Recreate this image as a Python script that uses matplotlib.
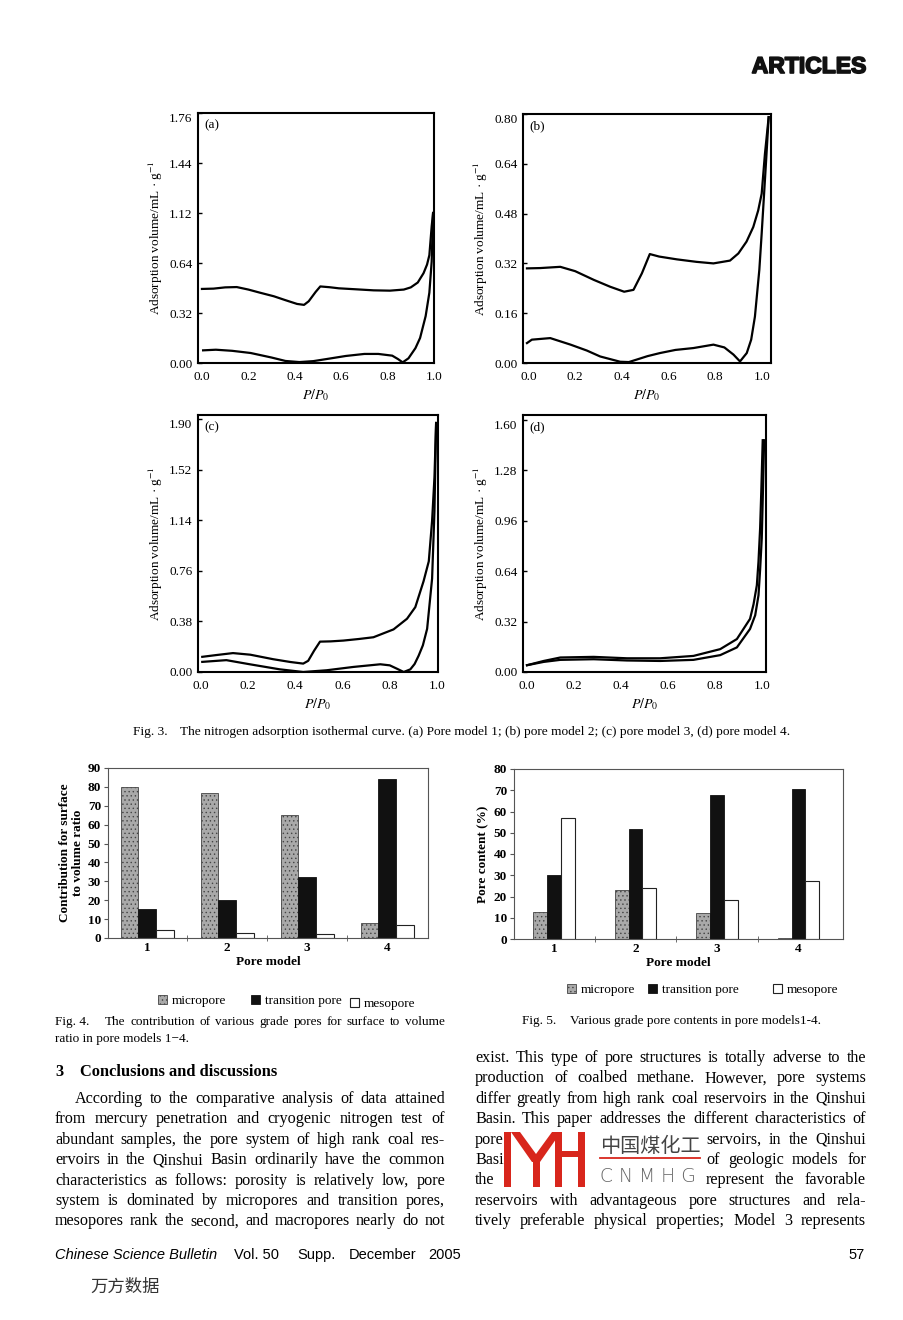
import matplotlib
matplotlib.use("Agg")
import matplotlib.pyplot as plt
import matplotlib.patheffects as pe
import numpy as np
from matplotlib.patches import Rectangle, Polygon

# ---- Fig. 3 isotherms ----
a_des_x = [0.0, 0.05, 0.10, 0.15, 0.20, 0.25, 0.31, 0.36, 0.41, 0.44, 0.46, 0.49, 0.51, 0.55, 0.59,
           0.66, 0.74, 0.81, 0.87, 0.90, 0.93, 0.955, 0.97, 0.98, 0.99, 0.996]
a_des_y = [0.474, 0.476, 0.484, 0.486, 0.470, 0.450, 0.427, 0.402, 0.378, 0.372, 0.395, 0.455, 0.490,
           0.485, 0.478, 0.472, 0.465, 0.463, 0.470, 0.484, 0.515, 0.575, 0.630, 0.690, 0.875, 0.960]
a_ads_x = [0.005, 0.06, 0.13, 0.21, 0.30, 0.36, 0.42, 0.48, 0.54, 0.62, 0.70, 0.76, 0.82, 0.845, 0.865,
           0.89, 0.92, 0.94, 0.964, 0.98, 0.99, 0.996]
a_ads_y = [0.081, 0.085, 0.078, 0.064, 0.035, 0.013, 0.006, 0.012, 0.026, 0.045, 0.058, 0.058, 0.047,
           0.025, 0.004, 0.030, 0.095, 0.160, 0.300, 0.450, 0.650, 0.960]

b_des_x = [-0.007, 0.05, 0.136, 0.2, 0.28, 0.35, 0.41, 0.45, 0.486, 0.52, 0.56, 0.636, 0.72, 0.793,
           0.864, 0.90, 0.935, 0.964, 0.985, 1.0, 1.014, 1.03]
b_des_y = [0.304, 0.305, 0.309, 0.295, 0.267, 0.245, 0.229, 0.235, 0.288, 0.350, 0.342, 0.333, 0.325,
           0.320, 0.329, 0.352, 0.390, 0.437, 0.490, 0.544, 0.672, 0.790]
b_ads_x = [-0.007, 0.014, 0.093, 0.18, 0.25, 0.307, 0.393, 0.43, 0.464, 0.51, 0.564, 0.63, 0.707, 0.793,
           0.84, 0.879, 0.907, 0.936, 0.955, 0.971, 0.99, 1.0, 1.019, 1.03]
b_ads_y = [0.064, 0.075, 0.080, 0.059, 0.040, 0.021, 0.004, 0.003, 0.011, 0.022, 0.032, 0.042, 0.048,
           0.059, 0.050, 0.027, 0.005, 0.032, 0.075, 0.149, 0.300, 0.416, 0.650, 0.790]

c_des_x = [0.007, 0.07, 0.137, 0.21, 0.307, 0.38, 0.434, 0.455, 0.48, 0.505, 0.55, 0.604, 0.67, 0.731,
           0.816, 0.873, 0.908, 0.943, 0.965, 0.979, 0.989, 0.996]
c_des_y = [0.114, 0.128, 0.142, 0.130, 0.096, 0.075, 0.063, 0.084, 0.160, 0.228, 0.230, 0.236, 0.248,
           0.261, 0.320, 0.400, 0.487, 0.682, 0.831, 1.135, 1.461, 1.870]
c_ads_x = [0.007, 0.109, 0.208, 0.335, 0.434, 0.533, 0.646, 0.76, 0.80, 0.83, 0.859, 0.887, 0.905,
           0.922, 0.94, 0.958, 0.979, 0.989, 0.996]
c_ads_y = [0.076, 0.089, 0.058, 0.020, 0.000, 0.013, 0.038, 0.058, 0.050, 0.025, 0.000, 0.020, 0.060,
           0.122, 0.200, 0.324, 0.701, 1.208, 1.870]

d_des_x = [0.0, 0.071, 0.142, 0.284, 0.426, 0.567, 0.709, 0.823, 0.894, 0.95, 0.965, 0.979, 0.986,
           0.993, 0.998, 1.004]
d_des_y = [0.043, 0.070, 0.092, 0.096, 0.087, 0.087, 0.102, 0.145, 0.209, 0.337, 0.430, 0.550, 0.700,
           0.913, 1.150, 1.470]
d_ads_x = [0.0, 0.071, 0.142, 0.284, 0.426, 0.567, 0.709, 0.823, 0.894, 0.95, 0.972, 0.986, 0.993,
           1.0, 1.005, 1.01]
d_ads_y = [0.043, 0.064, 0.077, 0.081, 0.073, 0.070, 0.077, 0.107, 0.156, 0.273, 0.360, 0.486, 0.650,
           0.849, 1.150, 1.470]

a_ticks = ["0.00", "0.32", "0.64", "1.12", "1.44", "1.76"]   # as printed in the original
b_ticks = ["0.00", "0.16", "0.32", "0.48", "0.64", "0.80"]
c_ticks = ["0.00", "0.38", "0.76", "1.14", "1.52", "1.90"]
d_ticks = ["0.00", "0.32", "0.64", "0.96", "1.28", "1.60"]

# ---- Fig. 4 / Fig. 5 bars ----
models = ["1", "2", "3", "4"]
f4_micro = [80, 77, 65, 8]
f4_trans = [15.5, 20, 32.5, 84]
f4_meso = [4.5, 2.5, 2, 7]
f5_micro = [12.5, 23, 12.3, 0.3]
f5_trans = [30, 52, 68, 70.5]
f5_meso = [57, 24, 18.5, 27.5]
pore_names = ["micropore", "transition pore", "mesopore"]

W, H = 904, 1320
plt.rcParams["font.family"] = ["Liberation Serif", "DejaVu Sans"]
plt.rcParams["mathtext.fontset"] = "stix"
plt.rcParams["hatch.linewidth"] = 0.5

fig = plt.figure(figsize=(W / 100, H / 100), dpi=100)
fig.patch.set_facecolor("white")
renderer = fig.canvas.get_renderer()


def box(l, t, r, b):
    return [l / W, 1 - b / H, (r - l) / W, (b - t) / H]


def ftext(x, y, s, **kw):
    return fig.text(x / W, 1 - y / H, s, **kw)


def width_of(s, **kw):
    t = fig.text(0, 0, s, **kw)
    w = t.get_window_extent(renderer).width
    t.remove()
    return w


def line(s, x0, y, x1=None, **kw):
    """one line of body text, spread to x1 when given (justified)"""
    words = s.split()
    ts = [ftext(x0, y, w, va="baseline", **kw) for w in words]
    ws = [t.get_window_extent(renderer).width for t in ts]
    if x1 is None or len(ws) < 2:
        gap = width_of("a a", **kw) - width_of("aa", **kw)
    else:
        gap = (x1 - x0 - sum(ws)) / (len(ws) - 1)
    x = x0
    for t, w in zip(ts, ws):
        t.set_x(x / W)
        x += w + gap


# ---------------- Fig. 3 ----------------
panels = [
    ("(a)", (198, 113, 434, 363), a_des_x, a_des_y, a_ads_x, a_ads_y, (-0.017, 1.0), 1.60, 1.60, a_ticks),
    ("(b)", (523, 114, 771, 363), b_des_x, b_des_y, b_ads_x, b_ads_y, (-0.024, 1.04), 0.80, 0.80, b_ticks),
    ("(c)", (198, 415, 438, 672), c_des_x, c_des_y, c_ads_x, c_ads_y, (-0.011, 1.004), 1.93, 1.90, c_ticks),
    ("(d)", (523, 415, 766, 672), d_des_x, d_des_y, d_ads_x, d_ads_y, (-0.017, 1.018), 1.63, 1.60, d_ticks),
]
for tag, bx, dx, dy, ax_, ay_, xl, ytop, tmax, tlabels in panels:
    ax = fig.add_axes(box(*bx))
    ax.plot(dx, dy, color="black", lw=1.6)
    ax.plot(ax_, ay_, color="black", lw=1.6)
    ax.set_xlim(*xl)
    ax.set_ylim(0, ytop)
    ax.set_xticks([0.0, 0.2, 0.4, 0.6, 0.8, 1.0])
    ax.set_xticklabels(["0.0", "0.2", "0.4", "0.6", "0.8", "1.0"])
    ax.set_yticks(np.linspace(0, tmax, 6))
    ax.set_yticklabels(tlabels)
    ax.get_yticklabels()[-1].set_va("top")
    ax.tick_params(axis="y", direction="in", length=3, width=1, labelsize=9.5, pad=4)
    ax.tick_params(axis="x", direction="in", length=0, labelsize=9.5, pad=6)
    for sp in ax.spines.values():
        sp.set_linewidth(1.5)
    ax.text(0.025, 0.975, tag, transform=ax.transAxes, ha="left", va="top", fontsize=9.5)
    ax.set_xlabel("$P/P_0$", fontsize=10, labelpad=3)
    ax.set_ylabel("Adsorption volume/mL · g$^{-1}$", fontsize=9.5, labelpad=3)

ftext(133, 735, "Fig. 3.", fontsize=9.6, va="baseline")
ftext(180, 735, "The nitrogen adsorption isothermal curve. (a) Pore model 1; (b) pore model 2; "
      "(c) pore model 3, (d) pore model 4.", fontsize=9.6, va="baseline")

# ---------------- Fig. 4 / Fig. 5 ----------------
micro_style = dict(facecolor="#a9a9a9", edgecolor="#444444", hatch="....", linewidth=0.6)
trans_style = dict(facecolor="#111111", edgecolor="#111111", linewidth=0.6)
meso_style = dict(facecolor="white", edgecolor="#222222", linewidth=0.8)
bar_specs = [
    ((108, 768, 428, 938), f4_micro, f4_trans, f4_meso, 0.22, 90, (0.51, 4.51),
     "Contribution for surface\nto volume ratio"),
    ((514, 769, 843, 939), f5_micro, f5_trans, f5_meso, 0.17, 80, (0.51, 4.545),
     "Pore content (%)"),
]
bar_axes = []
for bx, mi, tr, me, bw, ymax, xl, ylab in bar_specs:
    ax = fig.add_axes(box(*bx))
    pos = np.arange(1, len(models) + 1)
    h1 = ax.bar(pos - bw, mi, bw, **micro_style)
    h2 = ax.bar(pos, tr, bw, **trans_style)
    h3 = ax.bar(pos + bw, me, bw, **meso_style)
    ax.set_xlim(*xl)
    ax.set_ylim(0, ymax)
    ax.set_yticks(range(0, ymax + 1, 10))
    ax.set_xticks(pos)
    ax.set_xticklabels(models)
    ax.set_xticks(pos[:-1] + 0.5, minor=True)
    ax.tick_params(axis="x", which="major", length=0, labelsize=9.5, pad=3)
    ax.tick_params(axis="x", which="minor", direction="inout", length=4, color="#555555")
    ax.tick_params(axis="y", direction="out", length=3, color="#555555", labelsize=9.5, pad=2)
    for lab in ax.get_xticklabels() + ax.get_yticklabels():
        lab.set_fontweight("bold")
    for sp in ax.spines.values():
        sp.set_linewidth(0.8)
        sp.set_color("#555555")
    ax.set_xlabel("Pore model", fontsize=9.5, fontweight="bold", labelpad=1)
    ax.set_ylabel(ylab, fontsize=9.5, fontweight="bold", labelpad=3, linespacing=1.1)
    bar_axes.append((h1, h2, h3))

legend_rows = [
    (bar_axes[0], [158, 251, 350], [1001, 1001, 1004]),
    (bar_axes[1], [567, 648, 773], [990, 990, 990]),
]
for handles, xs, ys in legend_rows:
    for h, name, x, y in zip(handles, pore_names, xs, ys):
        fig.legend([h], [name], loc="center left", bbox_to_anchor=(x / W, 1 - y / H),
                   frameon=False, fontsize=9.5, handlelength=0.65, handleheight=0.65,
                   handletextpad=0.4, borderpad=0, borderaxespad=0)

cap = dict(fontsize=9.5)
ftext(55, 1025, "Fig. 4.", va="baseline", **cap)
line("The contribution of various grade pores for surface to volume", 105, 1025, 445, **cap)
ftext(55, 1042, "ratio in pore models 1\u22124.", va="baseline", **cap)
ftext(522, 1024, "Fig. 5.", va="baseline", **cap)
ftext(570, 1024, "Various grade pore contents in pore models1-4.", va="baseline", **cap)

# ---------------- page text ----------------
ftext(866, 73, "ARTICLES", fontsize=16.5, fontweight="heavy", ha="right", va="baseline",
      family=["Liberation Sans", "DejaVu Sans"], color="#111111",
      path_effects=[pe.withStroke(linewidth=1.2, foreground="#111111")])

ftext(55, 1076, "3", fontsize=11.8, fontweight="bold", va="baseline")
ftext(80, 1076, "Conclusions and discussions", fontsize=11.8, fontweight="bold", va="baseline")

body = dict(fontsize=11.6)
left_lines = [
    "According to the comparative analysis of data attained",
    "from mercury penetration and cryogenic nitrogen test of",
    "abundant samples, the pore system of high rank coal res-",
    "ervoirs in the Qinshui Basin ordinarily have the common",
    "characteristics as follows: porosity is relatively low, pore",
    "system is dominated by micropores and transition pores,",
    "mesopores rank the second, and macropores nearly do not",
]
for i, s in enumerate(left_lines):
    line(s, 75 if i == 0 else 55, 1103 + i * 20.4, 445, **body)

right_lines = [
    ("exist. This type of pore structures is totally adverse to the", None),
    ("production of coalbed methane. However, pore systems", None),
    ("differ greatly from high rank coal reservoirs in the Qinshui", None),
    ("Basin. This paper addresses the different characteristics of", None),
    ("pore", "servoirs, in the Qinshui"),
    ("Basi", "of geologic models for"),
    ("the", "represent the favorable"),
    ("reservoirs with advantageous pore structures and rela-", None),
    ("tively preferable physical properties; Model 3 represents", None),
]
for i, (s, tail) in enumerate(right_lines):
    y = 1062 + i * 20.4
    if tail is None:
        line(s, 475, y, 866, **body)
    else:
        line(s, 475, y, **body)
        line(tail, 706, y, 866, **body)

# watermark logo
red = "#d8261c"
for l, t, r, b in [(504, 1132, 511, 1187), (533, 1158, 540, 1187), (555, 1132, 562, 1187),
                   (578, 1132, 585, 1187), (562, 1151, 578, 1157)]:
    fig.patches.append(Rectangle((l / W, 1 - b / H), (r - l) / W, (b - t) / H,
                                 transform=fig.transFigure, color=red, lw=0))
vpts = [(511, 1132), (520, 1132), (536, 1154), (552, 1132), (561, 1132), (540, 1162), (532, 1162)]
fig.patches.append(Polygon([(x / W, 1 - y / H) for x, y in vpts], closed=True,
                           transform=fig.transFigure, color=red, lw=0))
ftext(600, 1152, "中国煤化工", fontsize=14.5, va="baseline", color="#444444",
      family=["Noto Sans CJK SC", "DejaVu Sans"])
fig.add_artist(plt.Line2D([600 / W, 700 / W], [1 - 1158 / H, 1 - 1158 / H], color=red, lw=1.3))
ftext(600, 1182, "C N M H G", fontsize=13.5, va="baseline", color="#666666",
      family=["DejaVu Sans"], fontweight="light")

# footer
foot_kw = dict(fontsize=10.5, va="baseline", family=["Liberation Sans", "DejaVu Sans"])
ftext(55, 1259, "Chinese Science Bulletin", style="italic", **foot_kw)
for s, x in [("Vol. 50", 234), ("Supp.", 297), ("December", 349), ("2005", 428)]:
    ftext(x, 1259, s, **foot_kw)
ftext(865, 1259, "57", ha="right", **foot_kw)
ftext(90, 1292, "万方数据", fontsize=12.5, va="baseline", color="#333333",
      family=["Noto Sans CJK SC", "DejaVu Sans"])

fig.savefig("out.png", dpi=100)
